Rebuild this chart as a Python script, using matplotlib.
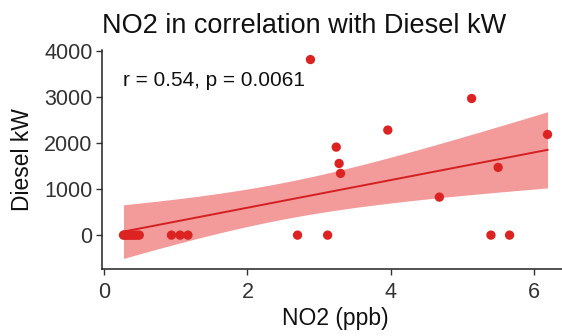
import numpy as np
import matplotlib
matplotlib.use("Agg")
import matplotlib.pyplot as plt

plt.rcParams['font.family'] = ['Liberation Sans', 'DejaVu Sans']

# NO2 (ppb) vs Diesel kW
no2 = [0.27, 0.29, 0.31, 0.34, 0.37, 0.40, 0.43, 0.46, 0.49,
       0.94, 1.06, 1.17,
       2.70, 2.88, 3.12, 3.24, 3.28, 3.30, 3.96, 4.68,
       5.13, 5.40, 5.50, 5.66, 6.19]
diesel = [0, 0, 0, 0, 0, 0, 0, 0, 0,
          0, 0, 0,
          0, 3810, 0, 1910, 1555, 1340, 2280, 825,
          2965, 0, 1470, 0, 2185]

title = "NO2 in correlation with Diesel kW"
xlab = "NO2 (ppb)"
ylab = "Diesel kW"
stat_text = "r = 0.54, p = 0.0061"

x = np.array(no2)
y = np.array(diesel)

# linear fit with 95% confidence band (like geom_smooth(method="lm"))
n = len(x)
slope, intercept = np.polyfit(x, y, 1)
resid = y - (slope * x + intercept)
s = np.sqrt(np.sum(resid ** 2) / (n - 2))
t_val = 2.069  # t(0.975, df=23)
xs = np.linspace(x.min(), x.max(), 80)
ys = slope * xs + intercept
se = s * np.sqrt(1.0 / n + (xs - x.mean()) ** 2 / np.sum((x - x.mean()) ** 2))

fig = plt.figure(figsize=(5.62, 3.36), dpi=100)
ax = fig.add_axes([0.182, 0.199, 0.83, 0.652])

ax.fill_between(xs, ys - t_val * se, ys + t_val * se, color='#f28888', alpha=0.85, lw=0)
ax.plot(xs, ys, color='#d42020', lw=1.4)
ax.scatter(x, y, s=45, color='#dd2222', zorder=3, edgecolors='none')

ax.set_xlim(-0.026, 6.486)
ax.set_ylim(-738, 4016)
ax.set_xticks([0, 2, 4, 6])
ax.set_yticks([0, 1000, 2000, 3000, 4000])

for side in ['top', 'right']:
    ax.spines[side].set_visible(False)
for side in ['left', 'bottom']:
    ax.spines[side].set_linewidth(1.1)
    ax.spines[side].set_color('#222222')
ax.tick_params(axis='both', length=4.5, width=1, color='#333333', labelsize=15.5, labelcolor='#333333')
ax.tick_params(axis='y', pad=2.5)
ax.tick_params(axis='x', pad=5)

ax.set_title(title, loc='left', fontsize=19.5, color='#111111', pad=12)
ax.set_xlabel(xlab, fontsize=16.5, color='#111111', labelpad=3)
ax.set_ylabel(ylab, fontsize=16.5, color='#111111', labelpad=7)

ax.text(0.265, 3350, stat_text, fontsize=15, color='#111111', va='center', ha='left')

fig.savefig("out.png", dpi=100)
